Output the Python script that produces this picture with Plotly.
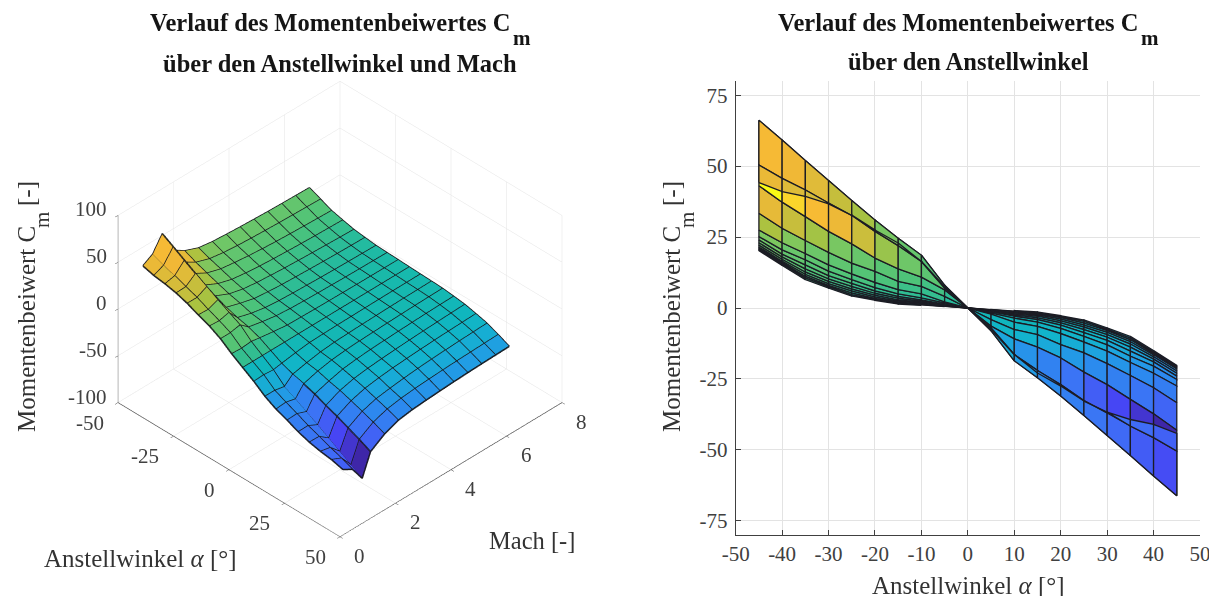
import plotly.graph_objects as go
from plotly.colors import sample_colorscale

alpha_pos = [0, 5, 10, 15, 20, 25, 30, 35, 40, 45]
mach = [0.5, 0.85, 1.2, 1.5, 2.0, 2.5, 3.0, 3.5, 4.0, 4.5, 5.0, 5.5, 6.0, 6.5]
# |Cm| per Mach value, for alpha = 0, 5, ... 45
cm_m050 = [0, 7.6, 16.4, 22.9, 27.5, 32.8, 36.7, 39.3, 41.0, 44.2]
cm_m085 = [0, 7.0, 16.4, 22.0, 27.0, 32.6, 37.0, 41.6, 45.7, 50.4]
cm_m120 = [0, 8.0, 18.6, 24.6, 31.0, 37.9, 44.9, 52.0, 59.2, 66.2]
cm_m150 = [0, 6.4, 10.9, 13.8, 17.6, 22.6, 27.0, 32.2, 37.3, 43.1]
cm_m200 = [0, 4.1, 7.6, 9.4, 12.9, 15.8, 19.6, 23.8, 28.1, 33.4]
cm_m250 = [0, 2.2, 5.0, 6.5, 9.0, 12.0, 15.2, 19.2, 23.0, 27.5]
cm_m300 = [0, 1.8, 3.6, 5.0, 7.2, 10.0, 13.0, 17.0, 20.5, 25.2]
cm_m350 = [0, 1.4, 2.9, 4.1, 6.0, 8.7, 11.4, 15.2, 19.0, 24.0]
cm_m400 = [0, 1.2, 2.4, 3.5, 5.2, 7.6, 10.3, 13.8, 18.0, 23.0]
cm_m450 = [0, 1.0, 2.0, 2.9, 4.5, 6.7, 9.4, 12.7, 17.2, 22.2]
cm_m500 = [0, 0.8, 1.6, 2.4, 3.9, 6.0, 8.6, 11.9, 16.5, 21.5]
cm_m550 = [0, 0.7, 1.3, 2.0, 3.4, 5.3, 8.0, 11.2, 16.0, 21.0]
cm_m600 = [0, 0.6, 1.1, 1.7, 3.0, 4.7, 7.5, 10.6, 15.5, 20.6]
cm_m650 = [0, 0.5, 0.9, 1.4, 2.7, 4.2, 7.0, 10.0, 15.0, 20.2]
cm_rows = [cm_m050, cm_m085, cm_m120, cm_m150, cm_m200, cm_m250, cm_m300,
           cm_m350, cm_m400, cm_m450, cm_m500, cm_m550, cm_m600, cm_m650]

alpha_ticks_3d = [-50, -25, 0, 25, 50]
mach_ticks = [0, 2, 4, 6, 8]
z_ticks = [-100, -50, 0, 50, 100]
x_ticks_2d = [-50, -40, -30, -20, -10, 0, 10, 20, 30, 40, 50]
y_ticks_2d = [-75, -50, -25, 0, 25, 50, 75]

title_1 = "Verlauf des Momentenbeiwertes C"
title_l2 = "über den Anstellwinkel und Mach"
title_r2 = "über den Anstellwinkel"

parula = [[0.0, "#3e26a8"], [0.1, "#4743f4"], [0.2, "#3e70f6"], [0.3, "#2a8cee"],
          [0.35, "#1ea3e0"], [0.4, "#12b4cc"], [0.45, "#10b6bc"], [0.5, "#18b9ab"],
          [0.55, "#30bd93"], [0.6, "#4cc37a"], [0.7, "#74c765"], [0.75, "#aac240"],
          [0.8, "#d8bc3a"], [0.85, "#f3b836"], [0.9, "#f8bc34"], [0.96, "#fbdc28"],
          [1.0, "#f9fb15"]]
CMAX = 66.2

alpha = [-a for a in alpha_pos[:0:-1]] + alpha_pos
cm = [[v for v in r[:0:-1]] + [-v for v in r] for r in cm_rows]
nm, na = len(mach), len(alpha)


def cell_value(i, j):
    """Colour value of the cell: low-Mach corner on the outer alpha side."""
    return cm[i][j] if alpha[j] < 0 else cm[i][j + 1]


fig = go.Figure()

# Left: 3D surface
xs, ys, zs, ii, jj, kk, inten = [], [], [], [], [], [], []
for i in range(nm):
    for j in range(na):
        xs.append(alpha[j]); ys.append(mach[i]); zs.append(cm[i][j])
for i in range(nm - 1):
    for j in range(na - 1):
        a = i * na + j; b = a + 1; c = a + na; d = c + 1
        ii += [a, a]; jj += [b, d]; kk += [d, c]
        inten += [cell_value(i, j)] * 2
fig.add_trace(go.Mesh3d(x=xs, y=ys, z=zs, i=ii, j=jj, k=kk, intensity=inten,
                        intensitymode="cell", colorscale=parula, cmin=-CMAX, cmax=CMAX,
                        showscale=False, flatshading=True, hoverinfo="skip",
                        lighting=dict(ambient=1, diffuse=0, specular=0, roughness=1, fresnel=0),
                        scene="scene"))
lx, ly, lz = [], [], []
for i in range(nm):
    lx += alpha + [None]; ly += [mach[i]] * na + [None]; lz += cm[i] + [None]
for j in range(na):
    lx += [alpha[j]] * nm + [None]; ly += mach + [None]; lz += [cm[i][j] for i in range(nm)] + [None]
fig.add_trace(go.Scatter3d(x=lx, y=ly, z=lz, mode="lines", line=dict(color="#18181c", width=3),
                           hoverinfo="skip", showlegend=False, connectgaps=False, scene="scene"))

# Right: projection, drawn back (high Mach) to front (low Mach)
for i in range(nm - 2, -1, -1):
    for j in range(na - 1):
        px = [alpha[j], alpha[j + 1], alpha[j + 1], alpha[j], alpha[j]]
        py = [cm[i][j], cm[i][j + 1], cm[i + 1][j + 1], cm[i + 1][j], cm[i][j]]
        t = (cell_value(i, j) + CMAX) / (2 * CMAX)
        col = sample_colorscale(parula, [t])[0]
        fig.add_trace(go.Scatter(x=px, y=py, mode="lines", fill="toself", fillcolor=col,
                                 line=dict(color="#1c1c24", width=1.3), hoverinfo="skip",
                                 showlegend=False, xaxis="x", yaxis="y"))

FONT = "Liberation Serif"
TXT = "#404040"
W, H = 1209, 588   # the page body adds an 8 px margin


def fx(px):
    return (px - 8) / W


def fy(py):
    return 1 - (py - 8) / H


axis3d = dict(showbackground=False, gridcolor="#e3e3e3", gridwidth=1, zeroline=False,
              showline=True, linecolor="#505050", linewidth=1.5, ticks="outside",
              ticklen=4, tickcolor="#505050", showspikes=False, showticklabels=False,
              title=dict(text=""))
tick_font = dict(family=FONT, size=21, color=TXT)

scene_notes = []
for v in alpha_ticks_3d:
    scene_notes.append(dict(x=v, y=0, z=-100, text=str(v), showarrow=False, xanchor="right",
                            yanchor="middle", xshift=-12, yshift=-20.5, font=tick_font))
for v in mach_ticks:
    scene_notes.append(dict(x=50, y=v, z=-100, text=str(v), showarrow=False, xanchor="left",
                            yanchor="middle", xshift=12, yshift=-19.5, font=tick_font))
for v in z_ticks:
    scene_notes.append(dict(x=-50, y=0, z=v, text=str(v), showarrow=False, xanchor="right",
                            yanchor="middle", xshift=-9, yshift=5.5, font=tick_font))

fig.update_layout(
    width=W, height=H, margin=dict(l=0, r=0, t=0, b=0, autoexpand=False), autosize=False,
    paper_bgcolor="white", plot_bgcolor="white", showlegend=False,
    font=dict(family=FONT, color=TXT),
    scene=dict(
        domain=dict(x=[fx(40), fx(640)], y=[fy(595.5), fy(21.5)]),
        xaxis=dict(axis3d, range=[-50, 50], tickvals=alpha_ticks_3d, autorange=False),
        yaxis=dict(axis3d, range=[0, 8], tickvals=mach_ticks, autorange=False),
        zaxis=dict(axis3d, range=[-100, 100], tickvals=z_ticks, autorange=False),
        aspectmode="manual", aspectratio=dict(x=1.094, y=1.094, z=0.8186),
        camera=dict(projection=dict(type="orthographic"),
                    eye=dict(x=1.135, y=-1.135, z=1.218), center=dict(x=0, y=0, z=0),
                    up=dict(x=0, y=0, z=1)),
        annotations=scene_notes,
    ),
    xaxis=dict(domain=[fx(735.7), fx(1200)], range=[-50, 50], tickvals=x_ticks_2d,
               ticktext=[str(v) for v in x_ticks_2d],
               ticks="inside", ticklen=5, tickcolor="#404040", showline=True, linecolor="#404040",
               linewidth=1, showgrid=True, gridcolor="#e3e3e3", zeroline=False,
               tickfont=tick_font, anchor="y"),
    yaxis=dict(domain=[fy(535), fy(81)], range=[-80, 80], tickvals=y_ticks_2d,
               ticktext=[str(v) for v in y_ticks_2d],
               ticks="inside", ticklen=5, tickcolor="#404040", showline=True, linecolor="#404040",
               linewidth=1, showgrid=True, gridcolor="#e3e3e3", zeroline=False,
               tickfont=tick_font, ticklabelstandoff=3, anchor="x"),
)


def note(text, x, y, size=25, rot=0, bold=False, color="#333333"):
    fig.add_annotation(text=f"<b>{text}</b>" if bold else text, x=fx(x), y=fy(y),
                       xref="paper", yref="paper", showarrow=False, textangle=rot,
                       xanchor="center", yanchor="middle",
                       font=dict(family=FONT, size=size, color=color))


DARK = "#151515"
note(title_1, 330, 23, 24.5, bold=True, color=DARK)
note("m", 522, 38, 21, bold=True, color=DARK)
note(title_l2, 340, 63, 24.5, bold=True, color=DARK)
note(title_1, 958, 23, 24.5, bold=True, color=DARK)
note("m", 1150, 38, 21, bold=True, color=DARK)
note(title_r2, 968, 62, 24.5, bold=True, color=DARK)
for cx in (26, 671):
    note("Momentenbeiwert C", cx, 329, 25, rot=-90)
    note("m", cx + 16, 220, 21, rot=-90)
    note("[-]", cx, 194, 25, rot=-90)
note("Anstellwinkel <i>α</i> [°]", 140, 558, 25)
note("Mach [-]", 532, 540, 24.5)
note("Anstellwinkel <i>α</i> [°]", 968, 585, 25)

fig.write_html("out.html")
